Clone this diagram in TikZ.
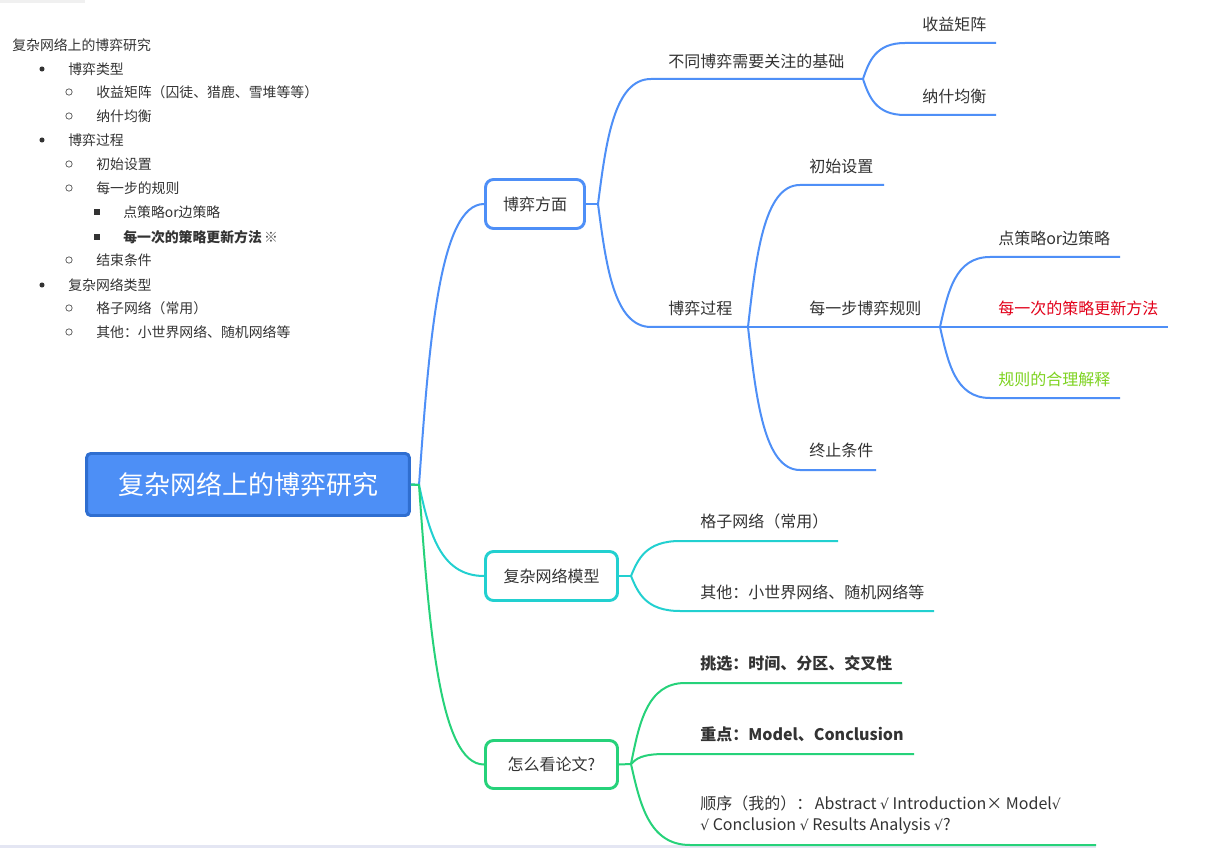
\documentclass[tikz,border=0pt]{standalone}
\usepackage{fontspec}
\setmainfont{Noto Sans CJK SC}
\newfontfamily\symfont{DejaVu Sans}
\newcommand{\ck}{{\symfont\fontsize{10.5}{12}\selectfont √}}
\definecolor{cblue}{HTML}{4E8FF7}
\definecolor{rootfill}{HTML}{4D8FF6}
\definecolor{rootdraw}{HTML}{2F6ED0}
\definecolor{ccyan}{HTML}{22D0D0}
\definecolor{cgreen}{HTML}{26D27A}
\definecolor{txt}{HTML}{333333}
\definecolor{cred}{HTML}{E2001A}
\definecolor{cyg}{HTML}{7ED321}
\definecolor{barc}{HTML}{E4E6F3}
\begin{document}
\begin{tikzpicture}[x=0.75pt,y=-0.75pt,
  cb/.style={draw=cblue,line width=1.5pt},
  cc/.style={draw=ccyan,line width=1.5pt},
  cg/.style={draw=cgreen,line width=1.5pt},
  rootbox/.style={rectangle,rounded corners=3pt,fill=rootfill,draw=rootdraw,line width=2.2pt,
    minimum width=242pt,minimum height=46.5pt,text=white,font=\fontsize{19.5}{22}\selectfont,inner sep=0pt},
  lvbox/.style={rectangle,rounded corners=6pt,fill=white,line width=2.2pt,minimum height=36.75pt,
    text=txt,font=\fontsize{12}{14}\selectfont,inner sep=0pt},
  leaf/.style={anchor=west,inner sep=0pt,text=txt,font=\fontsize{12}{14}\selectfont},
  li/.style={anchor=west,inner sep=0pt,text=txt,font=\fontsize{10.4}{12}\selectfont},
  dotb/.style={circle,fill=txt,inner sep=0pt,minimum size=3.8pt},
  circb/.style={circle,draw=txt!80,line width=0.55pt,inner sep=0pt,minimum size=4.8pt},
  sqb/.style={rectangle,fill=txt,inner sep=0pt,minimum size=4.4pt}
]
\useasboundingbox (0,0) rectangle (1213,848);
\fill[white] (0,0) rectangle (1213,848);
\fill[black!6] (0,0) rectangle (85,3);
\fill[barc] (0,845) rectangle (1096,848);

% ---- outline list on the left ----
\node[li] (o0) at (12,45) {复杂网络上的博弈研究};
\node[dotb] (b1) at (42,69) {};   \node[li] (o1) at (68,69) {博弈类型};
\node[circb] (c1) at (69,92) {};  \node[li] (o2) at (96,92) {收益矩阵（囚徒、猎鹿、雪堆等等）};
\node[circb] (c2) at (69,116) {}; \node[li] (o3) at (96,116) {纳什均衡};
\node[dotb] (b2) at (42,140) {};  \node[li] (o4) at (68,140) {博弈过程};
\node[circb] (c3) at (69,164) {}; \node[li] (o5) at (96,164) {初始设置};
\node[circb] (c4) at (69,188) {}; \node[li] (o6) at (96,188) {每一步的规则};
\node[sqb] (s1) at (97,212) {};   \node[li] (o7) at (123,212) {点策略or边策略};
\node[sqb] (s2) at (97,237) {};   \node[li] (o8) at (123,237) {\bfseries 每一次的策略更新方法\,{\mdseries\color{txt!85}※}};
\node[circb] (c5) at (69,260) {}; \node[li] (o9) at (96,260) {结束条件};
\node[dotb] (b3) at (42,285) {};  \node[li] (o10) at (68,285) {复杂网络类型};
\node[circb] (c6) at (69,308) {}; \node[li] (o11) at (96,308) {格子网络（常用）};
\node[circb] (c7) at (69,332) {}; \node[li] (o12) at (96,332) {其他：小世界网络、随机网络等};

% ---- main nodes ----
\node[rootbox] (root) at (248,484.5) {复杂网络上的博弈研究};
\node[lvbox,draw=cblue,minimum width=74.25pt] (bf) at (535,204) {博弈方面};
\node[lvbox,draw=ccyan,minimum width=99pt] (nm) at (551.5,576) {复杂网络模型};
\node[lvbox,draw=cgreen,minimum width=99pt,minimum height=36pt] (rp) at (551.5,764.5) {怎么看论文?};

% ---- coordinates ----
\coordinate (J0) at (419,485);
\coordinate (J1) at (598,204);
\coordinate (Sa) at (651,79);   \coordinate (Ja) at (863,79);
\coordinate (Sb) at (651,327);  \coordinate (J2) at (748,327);
\coordinate (Sc) at (905,43);   \coordinate (Ec) at (996,43);
\coordinate (Sd) at (905,115);  \coordinate (Ed) at (996,115);
\coordinate (Se) at (800,185);  \coordinate (Ee) at (884,185);
\coordinate (J3) at (940,327);
\coordinate (Sf) at (800,470);  \coordinate (Ef) at (876,470);
\coordinate (Sg) at (990,257);  \coordinate (Eg) at (1120,257);
\coordinate (Eh) at (1168,327);
\coordinate (Si) at (990,398);  \coordinate (Ei) at (1120,398);
\coordinate (J4) at (631,576);
\coordinate (Sj) at (680,541);  \coordinate (Ej) at (838,541);
\coordinate (Sk) at (680,611);  \coordinate (Ek) at (934,611);
\coordinate (J5) at (631,764);
\coordinate (Sl) at (685,683);  \coordinate (El) at (902,683);
\coordinate (Sm) at (665,754);  \coordinate (Em) at (914,754);
\coordinate (Sn) at (690,845);  \coordinate (En) at (1096,845);

% ---- connectors from root ----
\draw[cb] (root.east) -- (J0) .. controls +(10,-140) and +(-45,0) .. (bf.west);
\draw[cc] (root.east) -- (J0) .. controls +(10,45) and +(-45,0) .. (nm.west);
\draw[cg] (root.east) -- (J0) .. controls +(10,140) and +(-45,0) .. (rp.west);

% ---- 博弈方面 branch ----
\draw[cb] (bf.east) -- (J1);
\draw[cb] (J1) .. controls +(8,-62) and +(-37,0) .. (Sa) -- (Ja);
\draw[cb] (J1) .. controls +(8,61) and +(-37,0) .. (Sb) -- (J2);
\draw[cb] (Ja) .. controls +(6,-18) and +(-29,0) .. (Sc) -- (Ec);
\draw[cb] (Ja) .. controls +(6,18) and +(-29,0) .. (Sd) -- (Ed);
\draw[cb] (J2) .. controls +(8,-71) and +(-36,0) .. (Se) -- (Ee);
\draw[cb] (J2) -- (J3);
\draw[cb] (J2) .. controls +(8,71) and +(-36,0) .. (Sf) -- (Ef);
\draw[cb] (J3) .. controls +(8,-35) and +(-35,0) .. (Sg) -- (Eg);
\draw[cb] (J3) -- (Eh);
\draw[cb] (J3) .. controls +(8,35) and +(-35,0) .. (Si) -- (Ei);

% ---- 复杂网络模型 branch ----
\draw[cc] (nm.east) -- (J4);
\draw[cc] (J4) .. controls +(7,-17) and +(-34,0) .. (Sj) -- (Ej);
\draw[cc] (J4) .. controls +(7,17) and +(-34,0) .. (Sk) -- (Ek);

% ---- 怎么看论文 branch ----
\draw[cg] (rp.east) -- (J5);
\draw[cg] (J5) .. controls +(8,-40) and +(-38,0) .. (Sl) -- (El);
\draw[cg] (J5) .. controls +(5,-5) and +(-24,0) .. (Sm) -- (Em);
\draw[cg] (J5) .. controls +(9,40) and +(-41,0) .. (Sn) -- (En);

% ---- labels ----
\node[leaf] (ta) at (668,61) {不同博弈需要关注的基础};
\node[leaf] (tc) at (922,24) {收益矩阵};
\node[leaf] (td) at (922,96) {纳什均衡};
\node[leaf] (tb) at (668,308) {博弈过程};
\node[leaf] (te) at (809,166) {初始设置};
\node[leaf] (tm) at (809,308) {每一步博弈规则};
\node[leaf] (tf) at (809,450) {终止条件};
\node[leaf] (tg) at (998,238) {点策略or边策略};
\node[leaf,text=cred] (th) at (998,308) {每一次的策略更新方法};
\node[leaf,text=cyg] (ti) at (998,379) {规则的合理解释};
\node[leaf] (tj) at (700,521) {格子网络（常用）};
\node[leaf] (tk) at (700,592) {其他：小世界网络、随机网络等};
\node[leaf,font=\fontsize{12}{14}\selectfont\bfseries] (tl) at (700,663) {挑选：时间、分区、交叉性};
\node[leaf,font=\fontsize{12}{14}\selectfont\bfseries] (tmm) at (700,734) {重点：Model、Conclusion};
\node[leaf,align=left,font=\fontsize{12}{15.75}\selectfont] (tn) at (700,815.5)
  {顺序（我的）：\,Abstract \ck{} Introduction× Model\ck\\\ck{} Conclusion \ck{} Results Analysis \ck?};
\end{tikzpicture}
\end{document}
